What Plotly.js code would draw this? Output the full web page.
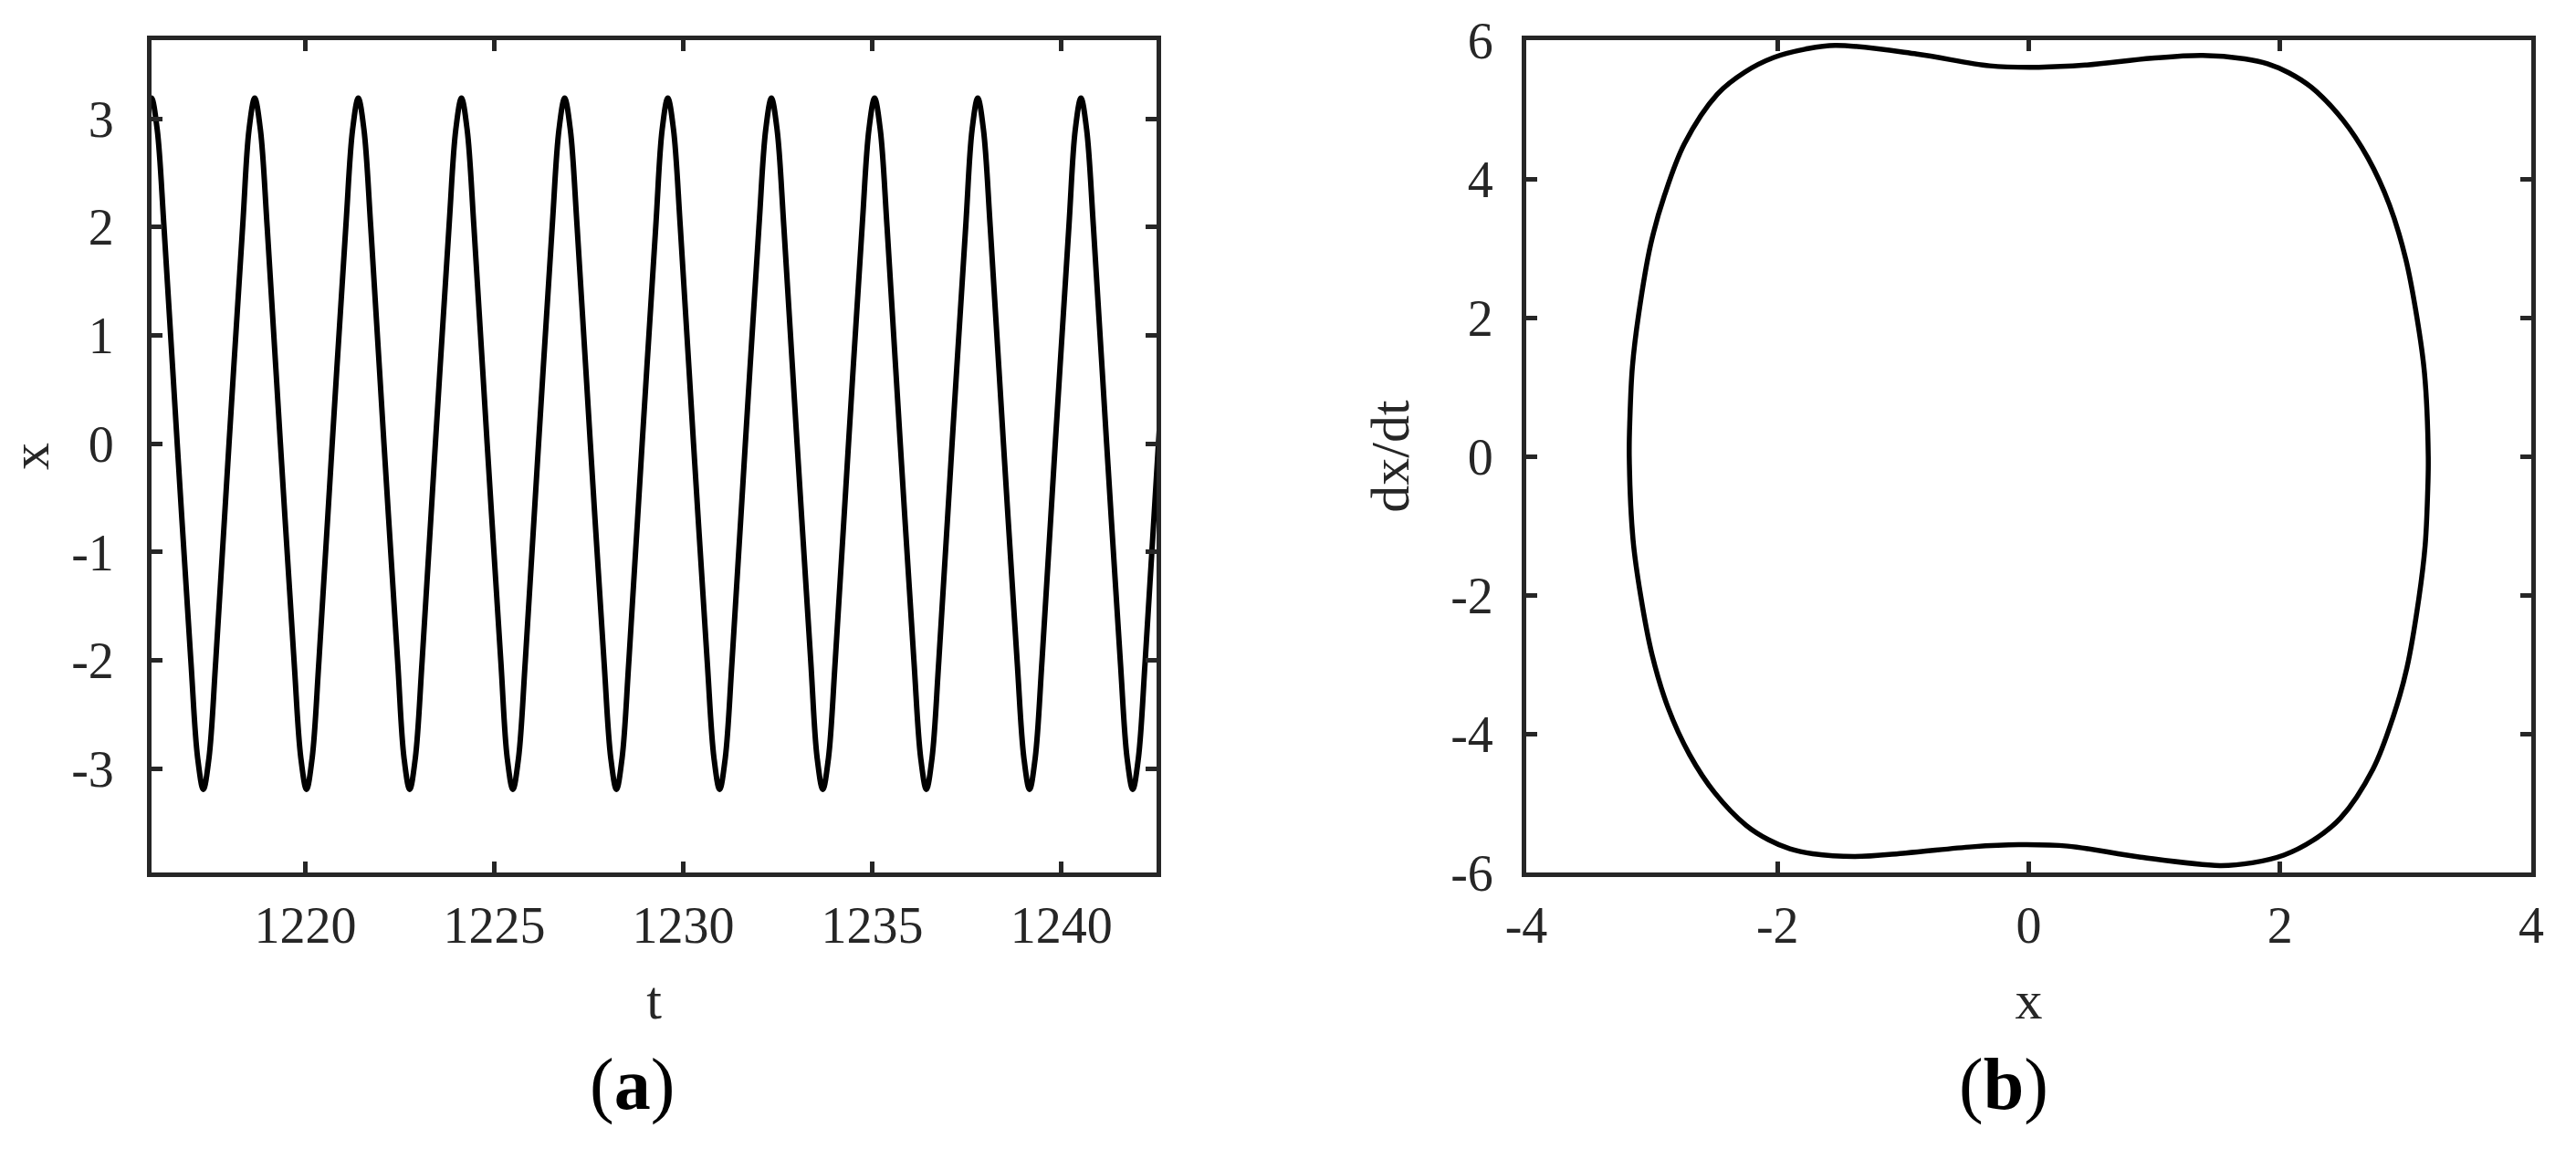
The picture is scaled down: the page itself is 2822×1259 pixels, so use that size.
<!DOCTYPE html>
<html>
<head>
<meta charset="utf-8">
<script src="https://cdn.plot.ly/plotly-3.0.1.min.js"></script>
<style>html,body{margin:0;padding:0;background:#fff;}#chart{width:2822px;height:1259px;}</style>
</head>
<body>
<div id="chart"></div>
<script>
// (a) time series x(t)
const timeT = [
  1215.78,
  1215.93, 1216.08, 1216.26, 1216.61, 1216.97, 1217.15,
  1217.30, 1217.45, 1217.63, 1217.98, 1218.34, 1218.51,
  1218.66, 1218.81, 1218.99, 1219.34, 1219.70, 1219.88,
  1220.03, 1220.18, 1220.36, 1220.71, 1221.07, 1221.25,
  1221.40, 1221.55, 1221.73, 1222.08, 1222.44, 1222.61,
  1222.76, 1222.91, 1223.09, 1223.44, 1223.80, 1223.98,
  1224.13, 1224.28, 1224.46, 1224.81, 1225.17, 1225.34,
  1225.49, 1225.64, 1225.82, 1226.17, 1226.53, 1226.71,
  1226.86, 1227.01, 1227.19, 1227.54, 1227.90, 1228.08,
  1228.23, 1228.38, 1228.56, 1228.91, 1229.27, 1229.44,
  1229.59, 1229.74, 1229.92, 1230.27, 1230.63, 1230.81,
  1230.96, 1231.11, 1231.29, 1231.64, 1232.00, 1232.18,
  1232.33, 1232.48, 1232.66, 1233.01, 1233.37, 1233.54,
  1233.69, 1233.84, 1234.02, 1234.37, 1234.73, 1234.91,
  1235.06, 1235.21, 1235.39, 1235.74, 1236.10, 1236.28,
  1236.43, 1236.58, 1236.76, 1237.11, 1237.47, 1237.64,
  1237.79, 1237.94, 1238.12, 1238.47, 1238.83, 1239.01,
  1239.16, 1239.31, 1239.49, 1239.84, 1240.20, 1240.37,
  1240.52, 1240.67, 1240.85, 1241.20, 1241.56, 1241.74,
  1241.89, 1242.04, 1242.22, 1242.57, 1242.93
];
const xOfT = [
  2.9,
  3.19, 2.9, 2.0, 0, -2.0, -2.9,
  -3.19, -2.9, -2.0, 0, 2.0, 2.9,
  3.19, 2.9, 2.0, 0, -2.0, -2.9,
  -3.19, -2.9, -2.0, 0, 2.0, 2.9,
  3.19, 2.9, 2.0, 0, -2.0, -2.9,
  -3.19, -2.9, -2.0, 0, 2.0, 2.9,
  3.19, 2.9, 2.0, 0, -2.0, -2.9,
  -3.19, -2.9, -2.0, 0, 2.0, 2.9,
  3.19, 2.9, 2.0, 0, -2.0, -2.9,
  -3.19, -2.9, -2.0, 0, 2.0, 2.9,
  3.19, 2.9, 2.0, 0, -2.0, -2.9,
  -3.19, -2.9, -2.0, 0, 2.0, 2.9,
  3.19, 2.9, 2.0, 0, -2.0, -2.9,
  -3.19, -2.9, -2.0, 0, 2.0, 2.9,
  3.19, 2.9, 2.0, 0, -2.0, -2.9,
  -3.19, -2.9, -2.0, 0, 2.0, 2.9,
  3.19, 2.9, 2.0, 0, -2.0, -2.9,
  -3.19, -2.9, -2.0, 0, 2.0, 2.9,
  3.19, 2.9, 2.0, 0, -2.0, -2.9,
  -3.19, -2.9, -2.0, 0, 2.0
];

// (b) phase portrait (x, dx/dt), clockwise from the left extreme
const phaseX = [
  -3.18, -3.175, -3.155, -3.105, -3.01, -2.90, -2.74, -2.48, -2.26, -2.03, -1.78, -1.54,
  -0.89, -0.31, 0.08, 0.45, 0.98, 1.385, 1.72, 1.90, 2.07,
  2.25, 2.5, 2.70, 2.87, 3.0, 3.09, 3.15, 3.18,
  3.175, 3.155, 3.105, 3.01, 2.90, 2.74, 2.48, 2.26, 2.03, 1.78, 1.52,
  0.89, 0.31, -0.08, -0.45, -0.98, -1.385, -1.72, -1.90, -2.07,
  -2.25, -2.5, -2.70, -2.87, -3.0, -3.09, -3.15, -3.18
];
const phaseV = [
  0.0, 0.54, 1.29, 2.05, 3.05, 3.76, 4.51, 5.22, 5.54, 5.75, 5.87, 5.925,
  5.80, 5.63, 5.61, 5.64, 5.74, 5.78, 5.73, 5.66, 5.53,
  5.32, 4.85, 4.30, 3.63, 2.85, 2.0, 1.2, 0.0,
  -0.54, -1.29, -2.05, -3.05, -3.76, -4.51, -5.22, -5.54, -5.75, -5.86, -5.90,
  -5.78, -5.62, -5.60, -5.63, -5.72, -5.77, -5.73, -5.66, -5.53,
  -5.32, -4.85, -4.30, -3.63, -2.85, -2.0, -1.2, 0.0
];

// tick labels
const tTicks = [1220, 1225, 1230, 1235, 1240];
const tTickText = ['1220', '1225', '1230', '1235', '1240'];
const xTicks = [-3, -2, -1, 0, 1, 2, 3];
const xTickText = ['-3', '-2', '-1', '0', '1', '2', '3'];
const pxTicks = [-4, -2, 0, 2, 4];
const pxTickText = ['-4', '-2', '0', '2', '4'];
const pvTicks = [-6, -4, -2, 0, 2, 4, 6];
const pvTickText = ['-6', '-4', '-2', '0', '2', '4', '6'];

const FONT = 'Liberation Serif, Times New Roman, serif';
const AX = '#262626';

function axisStyle(extra) {
  return Object.assign({
    showline: true, linecolor: AX, linewidth: 5, mirror: 'ticks',
    ticks: 'inside', ticklen: 12, tickwidth: 5, tickcolor: AX,
    showgrid: false, zeroline: false,
    tickfont: {family: FONT, size: 56, color: AX},
    fixedrange: true
  }, extra);
}

const traces = [
  {x: timeT, y: xOfT, type: 'scatter', mode: 'lines', xaxis: 'x', yaxis: 'y',
   line: {color: '#000', width: 6, shape: 'spline', smoothing: 1}, hoverinfo: 'skip'},
  {x: phaseX, y: phaseV, type: 'scatter', mode: 'lines', xaxis: 'x2', yaxis: 'y2',
   line: {color: '#000', width: 5.5, shape: 'spline', smoothing: 1}, hoverinfo: 'skip'}
];

const layout = {
  width: 2822, height: 1259, autosize: false,
  margin: {l: 0, r: 0, t: 0, b: 0},
  paper_bgcolor: '#fff', plot_bgcolor: '#fff',
  showlegend: false,
  font: {family: FONT, color: AX},
  xaxis: axisStyle({domain: [166/2822, 1267/2822], range: [1215.93, 1242.52],
    tickvals: tTicks, ticktext: tTickText, ticklabelstandoff: 5,
    title: {text: 't', font: {family: FONT, size: 60, color: AX}, standoff: 31}}),
  yaxis: axisStyle({domain: [1 - 956/1259, 1 - 44/1259], range: [-3.957, 3.725],
    tickvals: xTicks, ticktext: xTickText, ticklabelstandoff: 25,
    title: {text: 'x', font: {family: FONT, size: 60, color: AX}, standoff: 42}}),
  xaxis2: axisStyle({domain: [1672/2822, 2773/2822], range: [-4, 4], anchor: 'y2',
    tickvals: pxTicks, ticktext: pxTickText, ticklabelstandoff: 5,
    title: {text: 'x', font: {family: FONT, size: 60, color: AX}, standoff: 31}}),
  yaxis2: axisStyle({domain: [1 - 956/1259, 1 - 44/1259], range: [-6, 6], anchor: 'x2',
    tickvals: pvTicks, ticktext: pvTickText, ticklabelstandoff: 20,
    title: {text: 'dx/dt', font: {family: FONT, size: 60, color: AX}, standoff: 28}}),
  annotations: [
    {text: '(<b>a</b>)', xref: 'paper', yref: 'paper', x: 692/2822, y: 1 - 1188/1259,
     xanchor: 'center', yanchor: 'middle', showarrow: false,
     font: {family: FONT, size: 80, color: '#000'}},
    {text: '(<b>b</b>)', xref: 'paper', yref: 'paper', x: 2195/2822, y: 1 - 1188/1259,
     xanchor: 'center', yanchor: 'middle', showarrow: false,
     font: {family: FONT, size: 80, color: '#000'}}
  ]
};

Plotly.newPlot('chart', traces, layout, {staticPlot: true, displayModeBar: false});
</script>
</body>
</html>
